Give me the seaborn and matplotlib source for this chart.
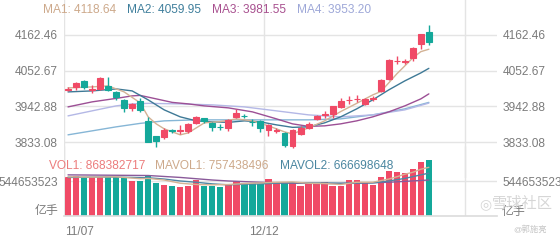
import numpy as np
import pandas as pd
import matplotlib
matplotlib.use("Agg")
import matplotlib.pyplot as plt
import seaborn as sns

# ---------------- data ----------------
opens  = [3995, 4004, 4022, 3995, 3996, 4007, 3988, 3963, 3938, 3961,
          3897, 3851, 3849, 3870, 3869, 3869, 3892, 3907, 3892, 3881,
          3877, 3910, 3915, 3896, 3897, 3870, 3869, 3861, 3822, 3859,
          3876, 3904, 3917, 3919, 3941, 3962, 3965, 3951, 3967, 3989,
          4027, 4082, 4079, 4091, 4135, 4173]
highs  = [4003, 4018, 4025, 4008, 4032, 4034, 3990, 3966, 3955, 3970,
          3910, 3852, 3878, 3874, 3886, 3893, 3915, 3909, 3895, 3888,
          3905, 3935, 3920, 3904, 3900, 3889, 3876, 3863, 3875, 3884,
          3895, 3918, 3928, 3945, 3970, 3975, 3978, 3968, 3976, 4026,
          4088, 4097, 4090, 4124, 4166, 4193]
lows   = [3990, 3992, 3996, 3985, 3994, 3991, 3963, 3927, 3928, 3925,
          3833, 3818, 3843, 3862, 3858, 3862, 3889, 3893, 3869, 3870,
          3867, 3908, 3907, 3882, 3865, 3851, 3862, 3818, 3815, 3856,
          3874, 3902, 3908, 3908, 3939, 3950, 3958, 3948, 3960, 3986,
          4024, 4074, 4074, 4084, 4119, 4132]
closes = [3997, 4016, 4004, 3997, 4030, 3994, 3973, 3938, 3950, 3933,
          3835, 3837, 3871, 3867, 3872, 3889, 3912, 3899, 3879, 3879,
          3902, 3924, 3913, 3894, 3876, 3887, 3871, 3825, 3871, 3876,
          3889, 3915, 3919, 3943, 3961, 3964, 3967, 3965, 3969, 4024,
          4086, 4084, 4081, 4122, 4166, 4142]
volumes = [607e6, 627e6, 589e6, 607e6, 612e6, 612e6, 601e6, 601e6, 546e6, 551e6,
           635e6, 520e6, 490e6, 464e6, 454e6, 470e6, 555e6, 464e6, 474e6, 451e6,
           500e6, 551e6, 513e6, 513e6, 500e6, 577e6, 525e6, 525e6, 525e6, 464e6,
           516e6, 516e6, 525e6, 474e6, 474e6, 562e6, 566e6, 525e6, 490e6, 601e6,
           704e6, 689e6, 669e6, 739e6, 842e6, 868382717]

ma1_idx = [0, 3, 5, 7, 9, 10, 11, 12, 14, 15, 17, 19, 21, 23, 25, 27, 28, 30, 32,
           34, 36, 38, 39, 40, 41, 42, 43, 44, 45]
ma1_val = [3999.9, 4003.0, 4006.1, 3987.6, 3953.9, 3911.0, 3889.5, 3874.2, 3855.8,
           3861.9, 3892.6, 3896.5, 3904.8, 3898.7, 3883.4, 3864.9, 3858.8, 3877.2,
           3898.7, 3927.2, 3952.4, 3978.4, 3988.6, 4015.3, 4042.9, 4067.4, 4092.0,
           4111.2, 4118.64]
ma2_idx = [0, 3, 6, 8, 10, 12, 14, 16, 18, 20, 22, 24, 26, 28, 30, 32, 34, 36, 38,
           40, 42, 44, 45]
ma2_val = [3987.6, 3990.7, 3996.8, 3990.7, 3963.1, 3932.4, 3911.0, 3898.7, 3895.6,
           3894.1, 3898.7, 3895.6, 3886.4, 3878.8, 3880.3, 3892.6, 3911.0, 3935.5,
           3963.1, 3993.8, 4021.4, 4045.9, 4059.95]
ma3_idx = [0, 3, 6, 8, 9, 11, 13, 15, 17, 20, 23, 26, 28, 30, 32, 34, 36, 38, 40,
           42, 44, 45]
ma3_val = [3941.6, 3957.0, 3967.7, 3975.4, 3976.9, 3966.2, 3955.4, 3950.8, 3944.7,
           3938.6, 3926.3, 3904.8, 3889.5, 3881.8, 3883.4, 3889.5, 3898.7, 3911.0,
           3926.3, 3944.7, 3966.2, 3981.55]
ma4_idx = [0, 3, 6, 8, 10, 14, 18, 22, 26, 30, 34, 38, 42, 45]
ma4_val = [3914.0, 3929.4, 3944.7, 3950.8, 3952.4, 3950.8, 3947.8, 3941.6, 3929.4,
           3917.1, 3911.0, 3917.1, 3932.4, 3953.20]
ma5_idx = [0, 3, 6, 9, 12, 16, 20, 25, 30, 34, 38, 42, 45]
ma5_val = [3855.8, 3868.0, 3880.3, 3891.0, 3898.7, 3901.8, 3901.8, 3901.8, 3901.8,
           3904.8, 3917.1, 3935.5, 3955.4]

mavol1_idx = [0, 3, 6, 9, 10, 12, 14, 16, 18, 20, 22, 24, 26, 28, 30, 32, 34, 36,
              38, 40, 41, 42, 43, 44, 45]
mavol1_val = [610e6, 605e6, 610e6, 580e6, 585e6, 560e6, 510e6, 490e6, 485e6, 490e6,
              505e6, 515e6, 525e6, 530e6, 510e6, 505e6, 490e6, 525e6, 525e6, 575e6,
              610e6, 650e6, 680e6, 728e6, 757438496]
mavol2_idx = [0, 5, 10, 12, 14, 16, 18, 20, 22, 24, 26, 28, 30, 32, 34, 36, 38, 40,
              42, 44, 45]
mavol2_val = [600e6, 608e6, 595e6, 575e6, 545e6, 525e6, 500e6, 485e6, 495e6, 500e6,
              510e6, 518e6, 515e6, 515e6, 510e6, 515e6, 515e6, 545e6, 585e6, 640e6,
              666698648]
mavol3_idx = [0, 5, 10, 14, 18, 20, 24, 28, 32, 36, 40, 45]
mavol3_val = [640e6, 635e6, 630e6, 600e6, 560e6, 545e6, 525e6, 510e6, 505e6, 510e6,
              525e6, 560e6]

price_ticks = [3833.08, 3942.88, 4052.67, 4162.46]
price_labels = ["3833.08", "3942.88", "4052.67", "4162.46"]
vol_tick = 544653523
date_labels = ["11/07", "12/12"]

# ---------------- style ----------------
sns.set_theme(style="white")
plt.rcParams["font.family"] = ["Liberation Sans", "Noto Sans CJK SC", "DejaVu Sans"]

UP = "#f04a66"
DOWN = "#14a89a"
GRID = "#e4e4e4"
TXT = "#7b7b7b"
FS = 8.6

W, H = 560, 240
fig = plt.figure(figsize=(W / 100, H / 100), dpi=100)
fig.patch.set_facecolor("white")

def px_axes(x0, y0, x1, y1):
    return fig.add_axes([x0 / W, 1 - y1 / H, (x1 - x0) / W, (y1 - y0) / H])

XL, XR = 64, 497
n = len(opens)
xs = np.arange(n)
df = pd.DataFrame({"x": xs, "open": opens, "high": highs, "low": lows,
                   "close": closes, "vol": volumes})
df["up"] = df["close"] >= df["open"]
df["color"] = np.where(df["up"], UP, DOWN)

# ---------- volume panel ----------
axv = px_axes(XL, 146, XR, 216)
axv.set_facecolor("none")
axv.set_xlim(-0.5, 53.5)
axv.set_ylim(0, 2 * vol_tick)
axv.axhline(vol_tick, color=GRID, lw=1, zorder=0)
for xv in (-0.5, 24.5, 49.5):
    axv.axvline(xv, color=GRID, lw=1, zorder=0)
axv.bar(df["x"], df["vol"], width=0.78, color=df["color"], linewidth=0, zorder=2)
for idx, val, c in ((mavol3_idx, mavol3_val, "#8a5a9a"),
                    (mavol2_idx, mavol2_val, "#4f86a4"),
                    (mavol1_idx, mavol1_val, "#d5b394")):
    sns.lineplot(x=idx, y=val, ax=axv, color=c, lw=1.0, zorder=3)
axv.set_yticks([vol_tick])
axv.set_yticklabels([f"{vol_tick}"])
axv.tick_params(axis="y", length=0, labelsize=FS, labelcolor=TXT, pad=4.3,
                labelleft=True, labelright=True)
axv.set_xticks([])
for s in axv.spines.values():
    s.set_visible(False)
axv.spines["bottom"].set_visible(True)
axv.spines["bottom"].set_color("#dddddd")
axv.set_xlabel("")
axv.set_ylabel("")

# ---------- price panel ----------
axp = px_axes(XL, -0.8, XR, 178)
axp.set_facecolor("none")
axp.set_xlim(-0.5, 53.5)
axp.set_ylim(3723.29, 4272.25)
for p in price_ticks:
    axp.axhline(p, color=GRID, lw=1, zorder=0)
for xv in (-0.5, 24.5, 49.5):
    axp.axvline(xv, color=GRID, lw=1, zorder=0)

ma_specs = [(ma5_idx, ma5_val, "#86b6d6"),
            (ma4_idx, ma4_val, "#b4b8e6"),
            (ma3_idx, ma3_val, "#9c4f95"),
            (ma2_idx, ma2_val, "#3e7996"),
            (ma1_idx, ma1_val, "#d3b295")]
for idx, val, c in ma_specs:
    sns.lineplot(x=idx, y=val, ax=axp, color=c, lw=1.0, zorder=2)

axp.vlines(df["x"], df["low"], df["high"], colors=df["color"], lw=1, zorder=3)
body_bottom = np.minimum(df["open"], df["close"])
body_h = np.abs(df["close"] - df["open"])
axp.bar(df["x"], body_h, bottom=body_bottom, width=0.74, color=df["color"],
        edgecolor=df["color"], linewidth=0.8, zorder=4)

axp.set_yticks(price_ticks)
axp.set_yticklabels(price_labels)
axp.tick_params(axis="y", length=0, labelsize=FS, labelcolor=TXT, pad=4.3,
                labelleft=True, labelright=True)
axp.set_xticks([])
for s in axp.spines.values():
    s.set_visible(False)
axp.set_xlabel("")
axp.set_ylabel("")

# ---------- texts ----------
def ftext(x, y, s, **kw):
    fig.text(x / W, 1 - y / H, s, **kw)

for x, s, c in ((43, "MA1: 4118.64", "#cda98b"), (127, "MA2: 4059.95", "#3f7f9c"),
                (212, "MA3: 3981.55", "#a8508f"), (297, "MA4: 3953.20", "#9ea8d8")):
    ftext(x, 10, s, color=c, fontsize=FS, va="center", ha="left")
for x, s, c in ((49, "VOL1: 868382717", "#ec7c7c"), (155, "MAVOL1: 757438496", "#cda98b"),
                (280, "MAVOL2: 666698648", "#4a86a0")):
    ftext(x, 166, s, color=c, fontsize=FS, va="center", ha="left")

ftext(58, 211, "亿手", color=TXT, fontsize=FS, va="center", ha="right")
ftext(502, 212, "亿手", color=TXT, fontsize=FS, va="center", ha="left")
ftext(65, 232, date_labels[0], color=TXT, fontsize=FS, va="center", ha="left")
ftext(264, 232, date_labels[1], color=TXT, fontsize=FS, va="center", ha="center")

# watermark
ftext(485, 204, "◎", color="#d6d6d6", fontsize=10, va="center", ha="center",
      family=["DejaVu Sans"])
ftext(522, 204, "雪球社区", color="#d6d6d6", fontsize=11, va="center", ha="center")
ftext(530, 230, "@郭施亮", color="#c4c4c4", fontsize=6, va="center", ha="center")

fig.savefig("out.png", dpi=100, facecolor="white")
